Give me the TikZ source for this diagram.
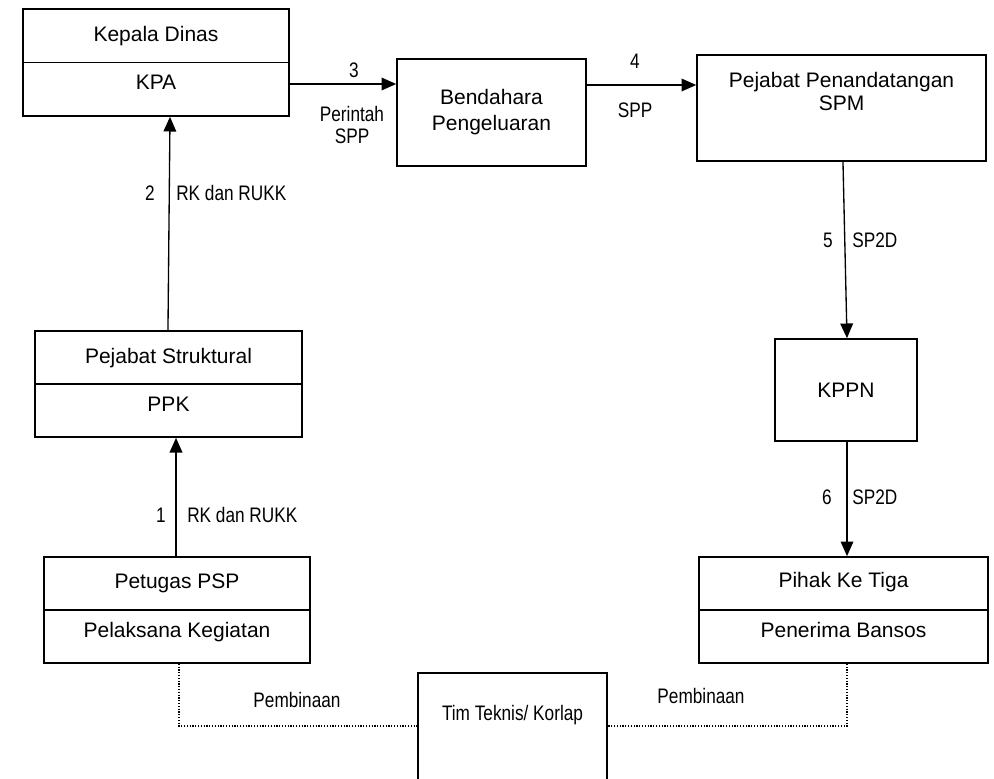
\documentclass[tikz,border=0pt]{standalone}
\usepackage{fontspec}
\setmainfont{Liberation Sans}
\newfontfamily\narrowf[FakeStretch=0.82]{Liberation Sans}
\usetikzlibrary{arrows.meta}
\newcommand{\pxu}{0.75pt}
\begin{document}
\begin{tikzpicture}[x=0.75pt,y=-0.75pt,
  box/.style={draw, line width=1.25pt, inner sep=0pt, align=center, font=\fontsize{15.75}{19.5}\selectfont},
  divline/.style={line width=1.25pt},
  txt/.style={inner sep=0pt, anchor=base, font=\fontsize{15.75}{19.5}\selectfont},
  lbl/.style={inner sep=0pt, anchor=base, font=\narrowf\fontsize{15.75}{16.5}\selectfont},
  arr/.style={line width=1pt, -{Triangle[length=11pt,width=9.5pt]}},
  dotln/.style={line width=0.9pt, dash pattern=on 0.9pt off 1.2pt}]
\useasboundingbox (0,0) rectangle (994,778);
\coordinate (r3) at (0,84);
\coordinate (r4) at (0,85);
\coordinate (r726) at (0,726);

% Kepala Dinas / KPA
\node[box, minimum width=266*\pxu, minimum height=107*\pxu] (kd) at (156,62.5) {};
\draw[divline] (kd.west) -- (kd.east);
\node[txt] (kdT) at (156,41) {Kepala Dinas};
\node[txt] (kdB) at (156,89) {KPA};

% Bendahara Pengeluaran
\node[box, minimum width=189*\pxu, minimum height=107*\pxu] (bp) at (491.5,112.5) {Bendahara\\Pengeluaran};

% Pejabat Penandatangan SPM
\node[box, minimum width=289*\pxu, minimum height=106*\pxu] (pp) at (841.5,108) {};
\node[txt, anchor=north, align=center, font=\fontsize{15.75}{17.25}\selectfont] (ppT) at (841.5,72) {Pejabat Penandatangan\\SPM};

% KPPN
\node[box, minimum width=142*\pxu, minimum height=102*\pxu] (kp) at (846,390) {KPPN};

% Pejabat Struktural / PPK
\node[box, minimum width=267*\pxu, minimum height=106*\pxu] (ps) at (168.5,384) {};
\draw[divline] (ps.west) -- (ps.east);
\node[txt] (psT) at (168.5,363) {Pejabat Struktural};
\node[txt] (psB) at (168.5,411) {PPK};

% Petugas PSP / Pelaksana Kegiatan
\node[box, minimum width=266*\pxu, minimum height=106*\pxu] (pt) at (177,610) {};
\draw[divline] (pt.west) -- (pt.east);
\node[txt] (ptT) at (177,588) {Petugas PSP};
\node[txt] (ptB) at (177,637) {Pelaksana Kegiatan};

% Pihak Ke Tiga / Penerima Bansos
\node[box, minimum width=289*\pxu, minimum height=106*\pxu] (pk) at (843.5,610) {};
\draw[divline] (pk.west) -- (pk.east);
\node[txt] (pkT) at (843.5,587) {Pihak Ke Tiga};
\node[txt] (pkB) at (843.5,637) {Penerima Bansos};

% Tim Teknis / Korlap (runs past the bottom edge)
\begin{scope}
\clip (0,0) rectangle (994,778);
\node[box, minimum width=189*\pxu, minimum height=140*\pxu] (tim) at (512.5,743) {};
\end{scope}
\node[lbl] (timT) at (512.5,720) {Tim Teknis/ Korlap};

% connectors
\draw[arr] (kd.east |- r3) -- (bp.west |- r3);
\draw[arr] (bp.east |- r4) -- (pp.west |- r4);
\draw[arr] ([xshift=1.1pt]pp.south) -- ([xshift=0.75pt]kp.north);
\draw[arr] ([xshift=0.75pt]kp.south) -- ([xshift=0.75pt]kp.south |- pk.north);
\draw[arr] ([xshift=-0.4pt]ps.north) -- ([xshift=10.5pt]kd.south);
\draw[arr] ([xshift=-0.75pt]pt.north) -- ([xshift=-0.75pt]pt.north |- ps.south);
\draw[dotln] ([xshift=1.5pt]pt.south) |- (tim.west |- r726);
\draw[dotln] ([xshift=2.6pt]pk.south) |- (tim.east |- r726);

% labels
\node[lbl] (l3) at (354,77) {3};
\node[lbl, anchor=north, align=center] (l3b) at (352,106.5) {Perintah\\SPP};
\node[lbl] (l4) at (635,68) {4};
\node[lbl] (l4b) at (635,117) {SPP};
\node[lbl, anchor=base east] (l5) at (833,247) {5};
\node[lbl, anchor=base west] (l5b) at (852,247) {SP2D};
\node[lbl, anchor=base east] (l6) at (832,504) {6};
\node[lbl, anchor=base west] (l6b) at (852,504) {SP2D};
\node[lbl, anchor=base east] (l2) at (155,200) {2};
\node[lbl, anchor=base west] (l2b) at (176,200) {RK dan RUKK};
\node[lbl, anchor=base east] (l1) at (166,522) {1};
\node[lbl, anchor=base west] (l1b) at (187,522) {RK dan RUKK};
\node[lbl] (pb1) at (297,707) {Pembinaan};
\node[lbl] (pb2) at (701,703) {Pembinaan};
\end{tikzpicture}
\end{document}
